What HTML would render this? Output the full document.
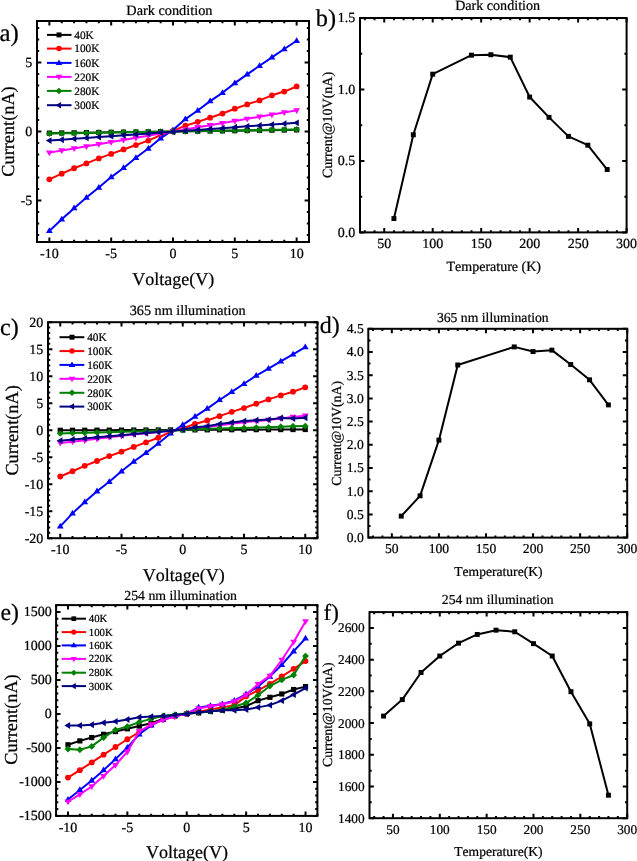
<!DOCTYPE html>
<html><head><meta charset="utf-8"><style>
html,body{margin:0;padding:0;background:#fff;}
body{width:637px;height:861px;overflow:hidden;}
svg{display:block;will-change:transform;}
text{font-family:"Liberation Serif", serif;font-kerning:none;text-rendering:geometricPrecision;stroke:#000;stroke-width:0.22px;}
</style></head><body>
<svg width="637" height="861" viewBox="0 0 637 861" font-family='"Liberation Serif", serif' fill="#000">
<rect width="637" height="861" fill="#fff"/>
<polyline points="49.36,133.16 61.73,132.99 74.09,132.83 86.45,132.66 98.82,132.49 111.18,132.33 123.55,132.16 135.91,132 148.27,131.83 160.64,131.67 173,131.5 185.36,131.33 197.73,131.17 210.09,131 222.45,130.84 234.82,130.67 247.18,130.51 259.55,130.34 271.91,130.17 284.27,130.01 296.64,129.84" fill="none" stroke="#000000" stroke-width="2.0" stroke-linejoin="round"/>
<rect x="46.76" y="130.56" width="5.2" height="5.2" fill="#000000"/>
<rect x="59.13" y="130.39" width="5.2" height="5.2" fill="#000000"/>
<rect x="71.49" y="130.23" width="5.2" height="5.2" fill="#000000"/>
<rect x="83.85" y="130.06" width="5.2" height="5.2" fill="#000000"/>
<rect x="96.22" y="129.89" width="5.2" height="5.2" fill="#000000"/>
<rect x="108.58" y="129.73" width="5.2" height="5.2" fill="#000000"/>
<rect x="120.95" y="129.56" width="5.2" height="5.2" fill="#000000"/>
<rect x="133.31" y="129.4" width="5.2" height="5.2" fill="#000000"/>
<rect x="145.67" y="129.23" width="5.2" height="5.2" fill="#000000"/>
<rect x="158.04" y="129.07" width="5.2" height="5.2" fill="#000000"/>
<rect x="170.4" y="128.9" width="5.2" height="5.2" fill="#000000"/>
<rect x="182.76" y="128.73" width="5.2" height="5.2" fill="#000000"/>
<rect x="195.13" y="128.57" width="5.2" height="5.2" fill="#000000"/>
<rect x="207.49" y="128.4" width="5.2" height="5.2" fill="#000000"/>
<rect x="219.85" y="128.24" width="5.2" height="5.2" fill="#000000"/>
<rect x="232.22" y="128.07" width="5.2" height="5.2" fill="#000000"/>
<rect x="244.58" y="127.91" width="5.2" height="5.2" fill="#000000"/>
<rect x="256.95" y="127.74" width="5.2" height="5.2" fill="#000000"/>
<rect x="269.31" y="127.57" width="5.2" height="5.2" fill="#000000"/>
<rect x="281.67" y="127.41" width="5.2" height="5.2" fill="#000000"/>
<rect x="294.04" y="127.24" width="5.2" height="5.2" fill="#000000"/>
<polyline points="49.36,179.29 61.73,173.63 74.09,168.24 86.45,163.41 98.82,158.43 111.18,153.88 123.55,149.46 135.91,145.04 148.27,140.62 160.64,135.09 173,130.81 185.36,125.7 197.73,121.83 210.09,117.69 222.45,113.54 234.82,108.71 247.18,104.43 259.55,100.42 271.91,95.31 284.27,91.58 296.64,86.47" fill="none" stroke="#ff0000" stroke-width="2.0" stroke-linejoin="round"/>
<circle cx="49.36" cy="179.29" r="2.9" fill="#ff0000"/>
<circle cx="61.73" cy="173.63" r="2.9" fill="#ff0000"/>
<circle cx="74.09" cy="168.24" r="2.9" fill="#ff0000"/>
<circle cx="86.45" cy="163.41" r="2.9" fill="#ff0000"/>
<circle cx="98.82" cy="158.43" r="2.9" fill="#ff0000"/>
<circle cx="111.18" cy="153.88" r="2.9" fill="#ff0000"/>
<circle cx="123.55" cy="149.46" r="2.9" fill="#ff0000"/>
<circle cx="135.91" cy="145.04" r="2.9" fill="#ff0000"/>
<circle cx="148.27" cy="140.62" r="2.9" fill="#ff0000"/>
<circle cx="160.64" cy="135.09" r="2.9" fill="#ff0000"/>
<circle cx="173" cy="130.81" r="2.9" fill="#ff0000"/>
<circle cx="185.36" cy="125.7" r="2.9" fill="#ff0000"/>
<circle cx="197.73" cy="121.83" r="2.9" fill="#ff0000"/>
<circle cx="210.09" cy="117.69" r="2.9" fill="#ff0000"/>
<circle cx="222.45" cy="113.54" r="2.9" fill="#ff0000"/>
<circle cx="234.82" cy="108.71" r="2.9" fill="#ff0000"/>
<circle cx="247.18" cy="104.43" r="2.9" fill="#ff0000"/>
<circle cx="259.55" cy="100.42" r="2.9" fill="#ff0000"/>
<circle cx="271.91" cy="95.31" r="2.9" fill="#ff0000"/>
<circle cx="284.27" cy="91.58" r="2.9" fill="#ff0000"/>
<circle cx="296.64" cy="86.47" r="2.9" fill="#ff0000"/>
<polyline points="49.36,230.95 61.73,219.35 74.09,208.16 86.45,197.52 98.82,187.58 111.18,177.08 123.55,167.97 135.91,157.74 148.27,148.49 160.64,138.27 173,130.12 185.36,119.07 197.73,110.5 210.09,101.11 222.45,92.82 234.82,83.16 247.18,74.32 259.55,65.75 271.91,57.33 284.27,49.04 296.64,40.75" fill="none" stroke="#0000ff" stroke-width="2.0" stroke-linejoin="round"/>
<polygon points="49.36,227.35 52.78,233.11 45.94,233.11" fill="#0000ff"/>
<polygon points="61.73,215.75 65.15,221.51 58.31,221.51" fill="#0000ff"/>
<polygon points="74.09,204.56 77.51,210.32 70.67,210.32" fill="#0000ff"/>
<polygon points="86.45,193.92 89.87,199.68 83.03,199.68" fill="#0000ff"/>
<polygon points="98.82,183.98 102.24,189.74 95.4,189.74" fill="#0000ff"/>
<polygon points="111.18,173.48 114.6,179.24 107.76,179.24" fill="#0000ff"/>
<polygon points="123.55,164.37 126.97,170.12 120.13,170.12" fill="#0000ff"/>
<polygon points="135.91,154.14 139.33,159.9 132.49,159.9" fill="#0000ff"/>
<polygon points="148.27,144.89 151.69,150.65 144.85,150.65" fill="#0000ff"/>
<polygon points="160.64,134.67 164.06,140.43 157.22,140.43" fill="#0000ff"/>
<polygon points="173,126.52 176.42,132.28 169.58,132.28" fill="#0000ff"/>
<polygon points="185.36,115.47 188.78,121.23 181.94,121.23" fill="#0000ff"/>
<polygon points="197.73,106.91 201.15,112.66 194.31,112.66" fill="#0000ff"/>
<polygon points="210.09,97.51 213.51,103.27 206.67,103.27" fill="#0000ff"/>
<polygon points="222.45,89.22 225.87,94.98 219.03,94.98" fill="#0000ff"/>
<polygon points="234.82,79.56 238.24,85.32 231.4,85.32" fill="#0000ff"/>
<polygon points="247.18,70.72 250.6,76.48 243.76,76.48" fill="#0000ff"/>
<polygon points="259.55,62.15 262.97,67.91 256.13,67.91" fill="#0000ff"/>
<polygon points="271.91,53.73 275.33,59.49 268.49,59.49" fill="#0000ff"/>
<polygon points="284.27,45.44 287.69,51.2 280.85,51.2" fill="#0000ff"/>
<polygon points="296.64,37.15 300.06,42.91 293.22,42.91" fill="#0000ff"/>
<polyline points="49.36,152.63 61.73,150.52 74.09,148.41 86.45,146.29 98.82,144.18 111.18,142.07 123.55,139.95 135.91,137.84 148.27,135.73 160.64,133.61 173,131.5 185.36,129.39 197.73,127.27 210.09,125.16 222.45,123.05 234.82,120.93 247.18,118.82 259.55,116.71 271.91,114.59 284.27,112.48 296.64,110.37" fill="none" stroke="#ff00ff" stroke-width="2.0" stroke-linejoin="round"/>
<polygon points="49.36,156.23 52.78,150.47 45.94,150.47" fill="#ff00ff"/>
<polygon points="61.73,154.12 65.15,148.36 58.31,148.36" fill="#ff00ff"/>
<polygon points="74.09,152.01 77.51,146.25 70.67,146.25" fill="#ff00ff"/>
<polygon points="86.45,149.89 89.87,144.13 83.03,144.13" fill="#ff00ff"/>
<polygon points="98.82,147.78 102.24,142.02 95.4,142.02" fill="#ff00ff"/>
<polygon points="111.18,145.67 114.6,139.91 107.76,139.91" fill="#ff00ff"/>
<polygon points="123.55,143.55 126.97,137.79 120.13,137.79" fill="#ff00ff"/>
<polygon points="135.91,141.44 139.33,135.68 132.49,135.68" fill="#ff00ff"/>
<polygon points="148.27,139.33 151.69,133.57 144.85,133.57" fill="#ff00ff"/>
<polygon points="160.64,137.21 164.06,131.45 157.22,131.45" fill="#ff00ff"/>
<polygon points="173,135.1 176.42,129.34 169.58,129.34" fill="#ff00ff"/>
<polygon points="185.36,132.99 188.78,127.23 181.94,127.23" fill="#ff00ff"/>
<polygon points="197.73,130.87 201.15,125.11 194.31,125.11" fill="#ff00ff"/>
<polygon points="210.09,128.76 213.51,123 206.67,123" fill="#ff00ff"/>
<polygon points="222.45,126.65 225.87,120.89 219.03,120.89" fill="#ff00ff"/>
<polygon points="234.82,124.53 238.24,118.77 231.4,118.77" fill="#ff00ff"/>
<polygon points="247.18,122.42 250.6,116.66 243.76,116.66" fill="#ff00ff"/>
<polygon points="259.55,120.31 262.97,114.55 256.13,114.55" fill="#ff00ff"/>
<polygon points="271.91,118.19 275.33,112.43 268.49,112.43" fill="#ff00ff"/>
<polygon points="284.27,116.08 287.69,110.32 280.85,110.32" fill="#ff00ff"/>
<polygon points="296.64,113.97 300.06,108.21 293.22,108.21" fill="#ff00ff"/>
<polyline points="49.36,133.57 61.73,133.36 74.09,133.16 86.45,132.95 98.82,132.74 111.18,132.54 123.55,132.33 135.91,132.12 148.27,131.91 160.64,131.71 173,131.5 185.36,131.29 197.73,131.09 210.09,130.88 222.45,130.67 234.82,130.46 247.18,130.26 259.55,130.05 271.91,129.84 284.27,129.64 296.64,129.43" fill="none" stroke="#008000" stroke-width="2.0" stroke-linejoin="round"/>
<polygon points="49.36,130.17 52.76,133.57 49.36,136.97 45.96,133.57" fill="#008000"/>
<polygon points="61.73,129.96 65.13,133.36 61.73,136.76 58.33,133.36" fill="#008000"/>
<polygon points="74.09,129.76 77.49,133.16 74.09,136.56 70.69,133.16" fill="#008000"/>
<polygon points="86.45,129.55 89.85,132.95 86.45,136.35 83.05,132.95" fill="#008000"/>
<polygon points="98.82,129.34 102.22,132.74 98.82,136.14 95.42,132.74" fill="#008000"/>
<polygon points="111.18,129.14 114.58,132.54 111.18,135.94 107.78,132.54" fill="#008000"/>
<polygon points="123.55,128.93 126.95,132.33 123.55,135.73 120.15,132.33" fill="#008000"/>
<polygon points="135.91,128.72 139.31,132.12 135.91,135.52 132.51,132.12" fill="#008000"/>
<polygon points="148.27,128.51 151.67,131.91 148.27,135.31 144.87,131.91" fill="#008000"/>
<polygon points="160.64,128.31 164.04,131.71 160.64,135.11 157.24,131.71" fill="#008000"/>
<polygon points="173,128.1 176.4,131.5 173,134.9 169.6,131.5" fill="#008000"/>
<polygon points="185.36,127.89 188.76,131.29 185.36,134.69 181.96,131.29" fill="#008000"/>
<polygon points="197.73,127.69 201.13,131.09 197.73,134.49 194.33,131.09" fill="#008000"/>
<polygon points="210.09,127.48 213.49,130.88 210.09,134.28 206.69,130.88" fill="#008000"/>
<polygon points="222.45,127.27 225.85,130.67 222.45,134.07 219.05,130.67" fill="#008000"/>
<polygon points="234.82,127.06 238.22,130.46 234.82,133.86 231.42,130.46" fill="#008000"/>
<polygon points="247.18,126.86 250.58,130.26 247.18,133.66 243.78,130.26" fill="#008000"/>
<polygon points="259.55,126.65 262.95,130.05 259.55,133.45 256.15,130.05" fill="#008000"/>
<polygon points="271.91,126.44 275.31,129.84 271.91,133.24 268.51,129.84" fill="#008000"/>
<polygon points="284.27,126.24 287.67,129.64 284.27,133.04 280.87,129.64" fill="#008000"/>
<polygon points="296.64,126.03 300.04,129.43 296.64,132.83 293.24,129.43" fill="#008000"/>
<polyline points="49.36,140.62 61.73,139.73 74.09,138.83 86.45,137.94 98.82,137.05 111.18,136.16 123.55,135.27 135.91,134.38 148.27,133.49 160.64,132.6 173,131.71 185.36,130.82 197.73,129.93 210.09,129.03 222.45,128.14 234.82,127.25 247.18,126.36 259.55,125.47 271.91,124.58 284.27,123.69 296.64,122.8" fill="none" stroke="#000080" stroke-width="2.0" stroke-linejoin="round"/>
<polygon points="45.76,140.62 51.52,137.2 51.52,144.04" fill="#000080"/>
<polygon points="58.13,139.73 63.89,136.31 63.89,143.15" fill="#000080"/>
<polygon points="70.49,138.83 76.25,135.41 76.25,142.25" fill="#000080"/>
<polygon points="82.85,137.94 88.61,134.52 88.61,141.36" fill="#000080"/>
<polygon points="95.22,137.05 100.98,133.63 100.98,140.47" fill="#000080"/>
<polygon points="107.58,136.16 113.34,132.74 113.34,139.58" fill="#000080"/>
<polygon points="119.95,135.27 125.71,131.85 125.71,138.69" fill="#000080"/>
<polygon points="132.31,134.38 138.07,130.96 138.07,137.8" fill="#000080"/>
<polygon points="144.67,133.49 150.43,130.07 150.43,136.91" fill="#000080"/>
<polygon points="157.04,132.6 162.8,129.18 162.8,136.02" fill="#000080"/>
<polygon points="169.4,131.71 175.16,128.29 175.16,135.13" fill="#000080"/>
<polygon points="181.76,130.82 187.52,127.4 187.52,134.24" fill="#000080"/>
<polygon points="194.13,129.93 199.89,126.51 199.89,133.35" fill="#000080"/>
<polygon points="206.49,129.03 212.25,125.61 212.25,132.45" fill="#000080"/>
<polygon points="218.85,128.14 224.61,124.72 224.61,131.56" fill="#000080"/>
<polygon points="231.22,127.25 236.98,123.83 236.98,130.67" fill="#000080"/>
<polygon points="243.58,126.36 249.34,122.94 249.34,129.78" fill="#000080"/>
<polygon points="255.95,125.47 261.71,122.05 261.71,128.89" fill="#000080"/>
<polygon points="268.31,124.58 274.07,121.16 274.07,128" fill="#000080"/>
<polygon points="280.67,123.69 286.43,120.27 286.43,127.11" fill="#000080"/>
<polygon points="293.04,122.8 298.8,119.38 298.8,126.22" fill="#000080"/>
<path d="M47 34.9H71.5" stroke="#000000" stroke-width="2"/>
<rect x="56.53" y="32.43" width="4.94" height="4.94" fill="#000000"/>
<text x="74.3" y="38.63" font-size="11.3" text-anchor="start">40K</text>
<path d="M47 48.6H71.5" stroke="#ff0000" stroke-width="2"/>
<circle cx="59" cy="48.6" r="2.75" fill="#ff0000"/>
<text x="74.3" y="52.33" font-size="11.3" text-anchor="start">100K</text>
<path d="M47 62.9H71.5" stroke="#0000ff" stroke-width="2"/>
<polygon points="59,59.48 62.25,64.95 55.75,64.95" fill="#0000ff"/>
<text x="74.3" y="66.63" font-size="11.3" text-anchor="start">160K</text>
<path d="M47 76.9H71.5" stroke="#ff00ff" stroke-width="2"/>
<polygon points="59,80.32 62.25,74.85 55.75,74.85" fill="#ff00ff"/>
<text x="74.3" y="80.63" font-size="11.3" text-anchor="start">220K</text>
<path d="M47 90.9H71.5" stroke="#008000" stroke-width="2"/>
<polygon points="59,87.67 62.23,90.9 59,94.13 55.77,90.9" fill="#008000"/>
<text x="74.3" y="94.63" font-size="11.3" text-anchor="start">280K</text>
<path d="M47 105.2H71.5" stroke="#000080" stroke-width="2"/>
<polygon points="55.58,105.2 61.05,101.95 61.05,108.45" fill="#000080"/>
<text x="74.3" y="108.93" font-size="11.3" text-anchor="start">300K</text>
<path d="M49.36 242V237.6M49.36 21V25.4M111.18 242V237.6M111.18 21V25.4M173 242V237.6M173 21V25.4M234.82 242V237.6M234.82 21V25.4M296.64 242V237.6M296.64 21V25.4M37 242V239.8M37 21V23.2M61.73 242V239.8M61.73 21V23.2M74.09 242V239.8M74.09 21V23.2M86.45 242V239.8M86.45 21V23.2M98.82 242V239.8M98.82 21V23.2M123.55 242V239.8M123.55 21V23.2M135.91 242V239.8M135.91 21V23.2M148.27 242V239.8M148.27 21V23.2M160.64 242V239.8M160.64 21V23.2M185.36 242V239.8M185.36 21V23.2M197.73 242V239.8M197.73 21V23.2M210.09 242V239.8M210.09 21V23.2M222.45 242V239.8M222.45 21V23.2M247.18 242V239.8M247.18 21V23.2M259.55 242V239.8M259.55 21V23.2M271.91 242V239.8M271.91 21V23.2M284.27 242V239.8M284.27 21V23.2M309 242V239.8M309 21V23.2M37 200.56H41.4M309 200.56H304.6M37 131.5H41.4M309 131.5H304.6M37 62.44H41.4M309 62.44H304.6M37 212.07H39.2M309 212.07H306.8M37 223.58H39.2M309 223.58H306.8M37 235.09H39.2M309 235.09H306.8M37 189.05H39.2M309 189.05H306.8M37 177.54H39.2M309 177.54H306.8M37 166.03H39.2M309 166.03H306.8M37 154.52H39.2M309 154.52H306.8M37 143.01H39.2M309 143.01H306.8M37 119.99H39.2M309 119.99H306.8M37 108.48H39.2M309 108.48H306.8M37 96.97H39.2M309 96.97H306.8M37 85.46H39.2M309 85.46H306.8M37 73.95H39.2M309 73.95H306.8M37 50.93H39.2M309 50.93H306.8M37 39.42H39.2M309 39.42H306.8M37 27.91H39.2M309 27.91H306.8" stroke="#000" stroke-width="2.0" fill="none"/>
<rect x="37" y="21" width="272" height="221" stroke="#000" stroke-width="2.0" fill="none"/>
<text x="49.36" y="257.8" font-size="14" text-anchor="middle">-10</text>
<text x="111.18" y="257.8" font-size="14" text-anchor="middle">-5</text>
<text x="173" y="257.8" font-size="14" text-anchor="middle">0</text>
<text x="234.82" y="257.8" font-size="14" text-anchor="middle">5</text>
<text x="296.64" y="257.8" font-size="14" text-anchor="middle">10</text>
<text x="32.3" y="204.98" font-size="14" text-anchor="end">-5</text>
<text x="32.3" y="135.92" font-size="14" text-anchor="end">0</text>
<text x="32.3" y="66.86" font-size="14" text-anchor="end">5</text>
<text x="169.4" y="14.9" font-size="14.3" text-anchor="middle">Dark condition</text>
<text x="173.3" y="284.7" font-size="18" text-anchor="middle">Voltage(V)</text>
<text x="14.2" y="131.5" font-size="18.3" text-anchor="middle" transform="rotate(-90 14.2 131.5)">Current(nA)</text>
<text x="-0.6" y="40.6" font-size="24.8" text-anchor="start">a)</text>
<polyline points="393.93,218.54 413.32,134.78 432.71,74.17 471.49,55.16 490.88,54.73 510.27,57.16 529.65,97.04 549.04,117.34 568.43,136.35 587.82,145.21 607.21,169.51" fill="none" stroke="#000" stroke-width="2.0" stroke-linejoin="round"/>
<rect x="391.46" y="216.07" width="4.94" height="4.94" fill="#000"/>
<rect x="410.85" y="132.31" width="4.94" height="4.94" fill="#000"/>
<rect x="430.24" y="71.7" width="4.94" height="4.94" fill="#000"/>
<rect x="469.02" y="52.69" width="4.94" height="4.94" fill="#000"/>
<rect x="488.41" y="52.26" width="4.94" height="4.94" fill="#000"/>
<rect x="507.8" y="54.69" width="4.94" height="4.94" fill="#000"/>
<rect x="527.18" y="94.57" width="4.94" height="4.94" fill="#000"/>
<rect x="546.57" y="114.87" width="4.94" height="4.94" fill="#000"/>
<rect x="565.96" y="133.88" width="4.94" height="4.94" fill="#000"/>
<rect x="585.35" y="142.74" width="4.94" height="4.94" fill="#000"/>
<rect x="604.74" y="167.04" width="4.94" height="4.94" fill="#000"/>
<path d="M384.24 232.4V228M384.24 18V22.4M432.71 232.4V228M432.71 18V22.4M481.18 232.4V228M481.18 18V22.4M529.65 232.4V228M529.65 18V22.4M578.13 232.4V228M578.13 18V22.4M626.6 232.4V228M626.6 18V22.4M364.85 232.4V230.2M364.85 18V20.2M374.54 232.4V230.2M374.54 18V20.2M393.93 232.4V230.2M393.93 18V20.2M403.63 232.4V230.2M403.63 18V20.2M413.32 232.4V230.2M413.32 18V20.2M423.01 232.4V230.2M423.01 18V20.2M442.4 232.4V230.2M442.4 18V20.2M452.1 232.4V230.2M452.1 18V20.2M461.79 232.4V230.2M461.79 18V20.2M471.49 232.4V230.2M471.49 18V20.2M490.88 232.4V230.2M490.88 18V20.2M500.57 232.4V230.2M500.57 18V20.2M510.27 232.4V230.2M510.27 18V20.2M519.96 232.4V230.2M519.96 18V20.2M539.35 232.4V230.2M539.35 18V20.2M549.04 232.4V230.2M549.04 18V20.2M558.74 232.4V230.2M558.74 18V20.2M568.43 232.4V230.2M568.43 18V20.2M587.82 232.4V230.2M587.82 18V20.2M597.52 232.4V230.2M597.52 18V20.2M607.21 232.4V230.2M607.21 18V20.2M616.91 232.4V230.2M616.91 18V20.2M360 232.4H364.4M626.6 232.4H622.2M360 160.93H364.4M626.6 160.93H622.2M360 89.47H364.4M626.6 89.47H622.2M360 18H364.4M626.6 18H622.2M360 196.67H362.2M626.6 196.67H624.4M360 125.2H362.2M626.6 125.2H624.4M360 53.73H362.2M626.6 53.73H624.4" stroke="#000" stroke-width="2.0" fill="none"/>
<rect x="360" y="18" width="266.6" height="214.4" stroke="#000" stroke-width="2.0" fill="none"/>
<text x="384.24" y="248" font-size="14" text-anchor="middle">50</text>
<text x="432.71" y="248" font-size="14" text-anchor="middle">100</text>
<text x="481.18" y="248" font-size="14" text-anchor="middle">150</text>
<text x="529.65" y="248" font-size="14" text-anchor="middle">200</text>
<text x="578.13" y="248" font-size="14" text-anchor="middle">250</text>
<text x="626.6" y="248" font-size="14" text-anchor="middle">300</text>
<text x="355.3" y="236.82" font-size="14" text-anchor="end">0.0</text>
<text x="355.3" y="165.35" font-size="14" text-anchor="end">0.5</text>
<text x="355.3" y="93.89" font-size="14" text-anchor="end">1.0</text>
<text x="355.3" y="22.42" font-size="14" text-anchor="end">1.5</text>
<text x="497.6" y="9.6" font-size="14.1" text-anchor="middle">Dark condition</text>
<text x="493.8" y="270.9" font-size="14" text-anchor="middle">Temperature (K)</text>
<text x="331.5" y="125" font-size="14" text-anchor="middle" transform="rotate(-90 331.5 125)">Current@10V(nA)</text>
<text x="315.8" y="25.6" font-size="24.3" text-anchor="start">b)</text>
<polyline points="60.25,430.31 72.5,430.27 84.75,430.23 97,430.19 109.25,430.15 121.5,430.11 133.75,430.07 146,430.02 158.25,429.98 170.5,429.94 182.75,429.9 195,429.86 207.25,429.82 219.5,429.78 231.75,429.74 244,429.7 256.25,429.66 268.5,429.62 280.75,429.58 293,429.54 305.25,429.5" fill="none" stroke="#000000" stroke-width="2.0" stroke-linejoin="round"/>
<rect x="57.65" y="427.71" width="5.2" height="5.2" fill="#000000"/>
<rect x="69.9" y="427.67" width="5.2" height="5.2" fill="#000000"/>
<rect x="82.15" y="427.63" width="5.2" height="5.2" fill="#000000"/>
<rect x="94.4" y="427.59" width="5.2" height="5.2" fill="#000000"/>
<rect x="106.65" y="427.55" width="5.2" height="5.2" fill="#000000"/>
<rect x="118.9" y="427.51" width="5.2" height="5.2" fill="#000000"/>
<rect x="131.15" y="427.47" width="5.2" height="5.2" fill="#000000"/>
<rect x="143.4" y="427.42" width="5.2" height="5.2" fill="#000000"/>
<rect x="155.65" y="427.38" width="5.2" height="5.2" fill="#000000"/>
<rect x="167.9" y="427.34" width="5.2" height="5.2" fill="#000000"/>
<rect x="180.15" y="427.3" width="5.2" height="5.2" fill="#000000"/>
<rect x="192.4" y="427.26" width="5.2" height="5.2" fill="#000000"/>
<rect x="204.65" y="427.22" width="5.2" height="5.2" fill="#000000"/>
<rect x="216.9" y="427.18" width="5.2" height="5.2" fill="#000000"/>
<rect x="229.15" y="427.14" width="5.2" height="5.2" fill="#000000"/>
<rect x="241.4" y="427.1" width="5.2" height="5.2" fill="#000000"/>
<rect x="253.65" y="427.06" width="5.2" height="5.2" fill="#000000"/>
<rect x="265.9" y="427.02" width="5.2" height="5.2" fill="#000000"/>
<rect x="278.15" y="426.98" width="5.2" height="5.2" fill="#000000"/>
<rect x="290.4" y="426.94" width="5.2" height="5.2" fill="#000000"/>
<rect x="302.65" y="426.9" width="5.2" height="5.2" fill="#000000"/>
<polyline points="60.25,476.48 72.5,471.24 84.75,465.84 97,460.98 109.25,456.12 121.5,451.69 133.75,446.94 146,442.4 158.25,437.76 170.5,431.82 182.75,428.2 195,423.99 207.25,420.48 219.5,416.16 231.75,411.84 244,408.06 256.25,403.74 268.5,399.42 280.75,395.42 293,391.7 305.25,387.32" fill="none" stroke="#ff0000" stroke-width="2.0" stroke-linejoin="round"/>
<circle cx="60.25" cy="476.48" r="2.9" fill="#ff0000"/>
<circle cx="72.5" cy="471.24" r="2.9" fill="#ff0000"/>
<circle cx="84.75" cy="465.84" r="2.9" fill="#ff0000"/>
<circle cx="97" cy="460.98" r="2.9" fill="#ff0000"/>
<circle cx="109.25" cy="456.12" r="2.9" fill="#ff0000"/>
<circle cx="121.5" cy="451.69" r="2.9" fill="#ff0000"/>
<circle cx="133.75" cy="446.94" r="2.9" fill="#ff0000"/>
<circle cx="146" cy="442.4" r="2.9" fill="#ff0000"/>
<circle cx="158.25" cy="437.76" r="2.9" fill="#ff0000"/>
<circle cx="170.5" cy="431.82" r="2.9" fill="#ff0000"/>
<circle cx="182.75" cy="428.2" r="2.9" fill="#ff0000"/>
<circle cx="195" cy="423.99" r="2.9" fill="#ff0000"/>
<circle cx="207.25" cy="420.48" r="2.9" fill="#ff0000"/>
<circle cx="219.5" cy="416.16" r="2.9" fill="#ff0000"/>
<circle cx="231.75" cy="411.84" r="2.9" fill="#ff0000"/>
<circle cx="244" cy="408.06" r="2.9" fill="#ff0000"/>
<circle cx="256.25" cy="403.74" r="2.9" fill="#ff0000"/>
<circle cx="268.5" cy="399.42" r="2.9" fill="#ff0000"/>
<circle cx="280.75" cy="395.42" r="2.9" fill="#ff0000"/>
<circle cx="293" cy="391.7" r="2.9" fill="#ff0000"/>
<circle cx="305.25" cy="387.32" r="2.9" fill="#ff0000"/>
<polyline points="60.25,526.32 72.5,513.36 84.75,502.02 97,491.22 109.25,481.77 121.5,471.24 133.75,461.52 146,452.88 158.25,443.54 170.5,433.44 182.75,424.8 195,416.7 207.25,408.6 219.5,399.96 231.75,391.86 244,383.76 256.25,375.66 268.5,368.64 280.75,361.4 293,354.33 305.25,347.09" fill="none" stroke="#0000ff" stroke-width="2.0" stroke-linejoin="round"/>
<polygon points="60.25,522.72 63.67,528.48 56.83,528.48" fill="#0000ff"/>
<polygon points="72.5,509.76 75.92,515.52 69.08,515.52" fill="#0000ff"/>
<polygon points="84.75,498.42 88.17,504.18 81.33,504.18" fill="#0000ff"/>
<polygon points="97,487.62 100.42,493.38 93.58,493.38" fill="#0000ff"/>
<polygon points="109.25,478.17 112.67,483.93 105.83,483.93" fill="#0000ff"/>
<polygon points="121.5,467.64 124.92,473.4 118.08,473.4" fill="#0000ff"/>
<polygon points="133.75,457.92 137.17,463.68 130.33,463.68" fill="#0000ff"/>
<polygon points="146,449.28 149.42,455.04 142.58,455.04" fill="#0000ff"/>
<polygon points="158.25,439.94 161.67,445.7 154.83,445.7" fill="#0000ff"/>
<polygon points="170.5,429.84 173.92,435.6 167.08,435.6" fill="#0000ff"/>
<polygon points="182.75,421.2 186.17,426.96 179.33,426.96" fill="#0000ff"/>
<polygon points="195,413.1 198.42,418.86 191.58,418.86" fill="#0000ff"/>
<polygon points="207.25,405 210.67,410.76 203.83,410.76" fill="#0000ff"/>
<polygon points="219.5,396.36 222.92,402.12 216.08,402.12" fill="#0000ff"/>
<polygon points="231.75,388.26 235.17,394.02 228.33,394.02" fill="#0000ff"/>
<polygon points="244,380.16 247.42,385.92 240.58,385.92" fill="#0000ff"/>
<polygon points="256.25,372.06 259.67,377.82 252.83,377.82" fill="#0000ff"/>
<polygon points="268.5,365.04 271.92,370.8 265.08,370.8" fill="#0000ff"/>
<polygon points="280.75,357.8 284.17,363.56 277.33,363.56" fill="#0000ff"/>
<polygon points="293,350.73 296.42,356.49 289.58,356.49" fill="#0000ff"/>
<polygon points="305.25,343.49 308.67,349.25 301.83,349.25" fill="#0000ff"/>
<polyline points="60.25,442.89 72.5,441.65 84.75,440.35 97,438.84 109.25,437.22 121.5,435.87 133.75,434.52 146,433.22 158.25,431.98 170.5,430.85 182.75,429.66 195,428.58 207.25,426.96 219.5,425.34 231.75,423.72 244,422.21 256.25,421.02 268.5,419.94 280.75,418.48 293,416.92 305.25,415.62" fill="none" stroke="#ff00ff" stroke-width="2.0" stroke-linejoin="round"/>
<polygon points="60.25,446.49 63.67,440.73 56.83,440.73" fill="#ff00ff"/>
<polygon points="72.5,445.25 75.92,439.49 69.08,439.49" fill="#ff00ff"/>
<polygon points="84.75,443.95 88.17,438.19 81.33,438.19" fill="#ff00ff"/>
<polygon points="97,442.44 100.42,436.68 93.58,436.68" fill="#ff00ff"/>
<polygon points="109.25,440.82 112.67,435.06 105.83,435.06" fill="#ff00ff"/>
<polygon points="121.5,439.47 124.92,433.71 118.08,433.71" fill="#ff00ff"/>
<polygon points="133.75,438.12 137.17,432.36 130.33,432.36" fill="#ff00ff"/>
<polygon points="146,436.82 149.42,431.06 142.58,431.06" fill="#ff00ff"/>
<polygon points="158.25,435.58 161.67,429.82 154.83,429.82" fill="#ff00ff"/>
<polygon points="170.5,434.45 173.92,428.69 167.08,428.69" fill="#ff00ff"/>
<polygon points="182.75,433.26 186.17,427.5 179.33,427.5" fill="#ff00ff"/>
<polygon points="195,432.18 198.42,426.42 191.58,426.42" fill="#ff00ff"/>
<polygon points="207.25,430.56 210.67,424.8 203.83,424.8" fill="#ff00ff"/>
<polygon points="219.5,428.94 222.92,423.18 216.08,423.18" fill="#ff00ff"/>
<polygon points="231.75,427.32 235.17,421.56 228.33,421.56" fill="#ff00ff"/>
<polygon points="244,425.81 247.42,420.05 240.58,420.05" fill="#ff00ff"/>
<polygon points="256.25,424.62 259.67,418.86 252.83,418.86" fill="#ff00ff"/>
<polygon points="268.5,423.54 271.92,417.78 265.08,417.78" fill="#ff00ff"/>
<polygon points="280.75,422.08 284.17,416.32 277.33,416.32" fill="#ff00ff"/>
<polygon points="293,420.52 296.42,414.76 289.58,414.76" fill="#ff00ff"/>
<polygon points="305.25,419.22 308.67,413.46 301.83,413.46" fill="#ff00ff"/>
<polyline points="60.25,433.44 72.5,433.12 84.75,432.79 97,432.47 109.25,432.14 121.5,431.82 133.75,431.5 146,431.17 158.25,430.85 170.5,430.52 182.75,430.2 195,429.01 207.25,428.69 219.5,428.42 231.75,428.15 244,427.88 256.25,427.61 268.5,427.28 280.75,426.74 293,426.2 305.25,426.1" fill="none" stroke="#008000" stroke-width="2.0" stroke-linejoin="round"/>
<polygon points="60.25,430.04 63.65,433.44 60.25,436.84 56.85,433.44" fill="#008000"/>
<polygon points="72.5,429.72 75.9,433.12 72.5,436.52 69.1,433.12" fill="#008000"/>
<polygon points="84.75,429.39 88.15,432.79 84.75,436.19 81.35,432.79" fill="#008000"/>
<polygon points="97,429.07 100.4,432.47 97,435.87 93.6,432.47" fill="#008000"/>
<polygon points="109.25,428.74 112.65,432.14 109.25,435.54 105.85,432.14" fill="#008000"/>
<polygon points="121.5,428.42 124.9,431.82 121.5,435.22 118.1,431.82" fill="#008000"/>
<polygon points="133.75,428.1 137.15,431.5 133.75,434.9 130.35,431.5" fill="#008000"/>
<polygon points="146,427.77 149.4,431.17 146,434.57 142.6,431.17" fill="#008000"/>
<polygon points="158.25,427.45 161.65,430.85 158.25,434.25 154.85,430.85" fill="#008000"/>
<polygon points="170.5,427.12 173.9,430.52 170.5,433.92 167.1,430.52" fill="#008000"/>
<polygon points="182.75,426.8 186.15,430.2 182.75,433.6 179.35,430.2" fill="#008000"/>
<polygon points="195,425.61 198.4,429.01 195,432.41 191.6,429.01" fill="#008000"/>
<polygon points="207.25,425.29 210.65,428.69 207.25,432.09 203.85,428.69" fill="#008000"/>
<polygon points="219.5,425.02 222.9,428.42 219.5,431.82 216.1,428.42" fill="#008000"/>
<polygon points="231.75,424.75 235.15,428.15 231.75,431.55 228.35,428.15" fill="#008000"/>
<polygon points="244,424.48 247.4,427.88 244,431.28 240.6,427.88" fill="#008000"/>
<polygon points="256.25,424.21 259.65,427.61 256.25,431.01 252.85,427.61" fill="#008000"/>
<polygon points="268.5,423.88 271.9,427.28 268.5,430.68 265.1,427.28" fill="#008000"/>
<polygon points="280.75,423.34 284.15,426.74 280.75,430.14 277.35,426.74" fill="#008000"/>
<polygon points="293,422.8 296.4,426.2 293,429.6 289.6,426.2" fill="#008000"/>
<polygon points="305.25,422.7 308.65,426.1 305.25,429.5 301.85,426.1" fill="#008000"/>
<polyline points="60.25,440.68 72.5,439.49 84.75,438.41 97,437.33 109.25,436.25 121.5,435.17 133.75,434.09 146,433.01 158.25,431.93 170.5,430.85 182.75,429.39 195,427.28 207.25,426.2 219.5,423.99 231.75,422.42 244,421.07 256.25,420.21 268.5,419.62 280.75,418 293,418.48 305.25,417.78" fill="none" stroke="#000080" stroke-width="2.0" stroke-linejoin="round"/>
<polygon points="56.65,440.68 62.41,437.26 62.41,444.1" fill="#000080"/>
<polygon points="68.9,439.49 74.66,436.07 74.66,442.91" fill="#000080"/>
<polygon points="81.15,438.41 86.91,434.99 86.91,441.83" fill="#000080"/>
<polygon points="93.4,437.33 99.16,433.91 99.16,440.75" fill="#000080"/>
<polygon points="105.65,436.25 111.41,432.83 111.41,439.67" fill="#000080"/>
<polygon points="117.9,435.17 123.66,431.75 123.66,438.59" fill="#000080"/>
<polygon points="130.15,434.09 135.91,430.67 135.91,437.51" fill="#000080"/>
<polygon points="142.4,433.01 148.16,429.59 148.16,436.43" fill="#000080"/>
<polygon points="154.65,431.93 160.41,428.51 160.41,435.35" fill="#000080"/>
<polygon points="166.9,430.85 172.66,427.43 172.66,434.27" fill="#000080"/>
<polygon points="179.15,429.39 184.91,425.97 184.91,432.81" fill="#000080"/>
<polygon points="191.4,427.28 197.16,423.86 197.16,430.7" fill="#000080"/>
<polygon points="203.65,426.2 209.41,422.78 209.41,429.62" fill="#000080"/>
<polygon points="215.9,423.99 221.66,420.57 221.66,427.41" fill="#000080"/>
<polygon points="228.15,422.42 233.91,419 233.91,425.84" fill="#000080"/>
<polygon points="240.4,421.07 246.16,417.65 246.16,424.49" fill="#000080"/>
<polygon points="252.65,420.21 258.41,416.79 258.41,423.63" fill="#000080"/>
<polygon points="264.9,419.62 270.66,416.2 270.66,423.04" fill="#000080"/>
<polygon points="277.15,418 282.91,414.58 282.91,421.42" fill="#000080"/>
<polygon points="289.4,418.48 295.16,415.06 295.16,421.9" fill="#000080"/>
<polygon points="301.65,417.78 307.41,414.36 307.41,421.2" fill="#000080"/>
<path d="M59.5 337.2H84.3" stroke="#000000" stroke-width="2"/>
<rect x="69.53" y="334.73" width="4.94" height="4.94" fill="#000000"/>
<text x="87.2" y="340.93" font-size="11.3" text-anchor="start">40K</text>
<path d="M59.5 351.1H84.3" stroke="#ff0000" stroke-width="2"/>
<circle cx="72" cy="351.1" r="2.75" fill="#ff0000"/>
<text x="87.2" y="354.83" font-size="11.3" text-anchor="start">100K</text>
<path d="M59.5 364.9H84.3" stroke="#0000ff" stroke-width="2"/>
<polygon points="72,361.48 75.25,366.95 68.75,366.95" fill="#0000ff"/>
<text x="87.2" y="368.63" font-size="11.3" text-anchor="start">160K</text>
<path d="M59.5 378.8H84.3" stroke="#ff00ff" stroke-width="2"/>
<polygon points="72,382.22 75.25,376.75 68.75,376.75" fill="#ff00ff"/>
<text x="87.2" y="382.53" font-size="11.3" text-anchor="start">220K</text>
<path d="M59.5 392.8H84.3" stroke="#008000" stroke-width="2"/>
<polygon points="72,389.57 75.23,392.8 72,396.03 68.77,392.8" fill="#008000"/>
<text x="87.2" y="396.53" font-size="11.3" text-anchor="start">280K</text>
<path d="M59.5 406.6H84.3" stroke="#000080" stroke-width="2"/>
<polygon points="68.58,406.6 74.05,403.35 74.05,409.85" fill="#000080"/>
<text x="87.2" y="410.33" font-size="11.3" text-anchor="start">300K</text>
<path d="M60.25 538.2V533.8M60.25 322.2V326.6M121.5 538.2V533.8M121.5 322.2V326.6M182.75 538.2V533.8M182.75 322.2V326.6M244 538.2V533.8M244 322.2V326.6M305.25 538.2V533.8M305.25 322.2V326.6M48 538.2V536M48 322.2V324.4M72.5 538.2V536M72.5 322.2V324.4M84.75 538.2V536M84.75 322.2V324.4M97 538.2V536M97 322.2V324.4M109.25 538.2V536M109.25 322.2V324.4M133.75 538.2V536M133.75 322.2V324.4M146 538.2V536M146 322.2V324.4M158.25 538.2V536M158.25 322.2V324.4M170.5 538.2V536M170.5 322.2V324.4M195 538.2V536M195 322.2V324.4M207.25 538.2V536M207.25 322.2V324.4M219.5 538.2V536M219.5 322.2V324.4M231.75 538.2V536M231.75 322.2V324.4M256.25 538.2V536M256.25 322.2V324.4M268.5 538.2V536M268.5 322.2V324.4M280.75 538.2V536M280.75 322.2V324.4M293 538.2V536M293 322.2V324.4M317.5 538.2V536M317.5 322.2V324.4M48 538.2H52.4M317.5 538.2H313.1M48 511.2H52.4M317.5 511.2H313.1M48 484.2H52.4M317.5 484.2H313.1M48 457.2H52.4M317.5 457.2H313.1M48 430.2H52.4M317.5 430.2H313.1M48 403.2H52.4M317.5 403.2H313.1M48 376.2H52.4M317.5 376.2H313.1M48 349.2H52.4M317.5 349.2H313.1M48 322.2H52.4M317.5 322.2H313.1M48 532.8H50.2M317.5 532.8H315.3M48 527.4H50.2M317.5 527.4H315.3M48 522H50.2M317.5 522H315.3M48 516.6H50.2M317.5 516.6H315.3M48 505.8H50.2M317.5 505.8H315.3M48 500.4H50.2M317.5 500.4H315.3M48 495H50.2M317.5 495H315.3M48 489.6H50.2M317.5 489.6H315.3M48 478.8H50.2M317.5 478.8H315.3M48 473.4H50.2M317.5 473.4H315.3M48 468H50.2M317.5 468H315.3M48 462.6H50.2M317.5 462.6H315.3M48 451.8H50.2M317.5 451.8H315.3M48 446.4H50.2M317.5 446.4H315.3M48 441H50.2M317.5 441H315.3M48 435.6H50.2M317.5 435.6H315.3M48 424.8H50.2M317.5 424.8H315.3M48 419.4H50.2M317.5 419.4H315.3M48 414H50.2M317.5 414H315.3M48 408.6H50.2M317.5 408.6H315.3M48 397.8H50.2M317.5 397.8H315.3M48 392.4H50.2M317.5 392.4H315.3M48 387H50.2M317.5 387H315.3M48 381.6H50.2M317.5 381.6H315.3M48 370.8H50.2M317.5 370.8H315.3M48 365.4H50.2M317.5 365.4H315.3M48 360H50.2M317.5 360H315.3M48 354.6H50.2M317.5 354.6H315.3M48 343.8H50.2M317.5 343.8H315.3M48 338.4H50.2M317.5 338.4H315.3M48 333H50.2M317.5 333H315.3M48 327.6H50.2M317.5 327.6H315.3" stroke="#000" stroke-width="2.0" fill="none"/>
<rect x="48" y="322.2" width="269.5" height="216" stroke="#000" stroke-width="2.0" fill="none"/>
<text x="60.25" y="554.2" font-size="14" text-anchor="middle">-10</text>
<text x="121.5" y="554.2" font-size="14" text-anchor="middle">-5</text>
<text x="182.75" y="554.2" font-size="14" text-anchor="middle">0</text>
<text x="244" y="554.2" font-size="14" text-anchor="middle">5</text>
<text x="305.25" y="554.2" font-size="14" text-anchor="middle">10</text>
<text x="43.3" y="542.62" font-size="14" text-anchor="end">-20</text>
<text x="43.3" y="515.62" font-size="14" text-anchor="end">-15</text>
<text x="43.3" y="488.62" font-size="14" text-anchor="end">-10</text>
<text x="43.3" y="461.62" font-size="14" text-anchor="end">-5</text>
<text x="43.3" y="434.62" font-size="14" text-anchor="end">0</text>
<text x="43.3" y="407.62" font-size="14" text-anchor="end">5</text>
<text x="43.3" y="380.62" font-size="14" text-anchor="end">10</text>
<text x="43.3" y="353.62" font-size="14" text-anchor="end">15</text>
<text x="43.3" y="326.62" font-size="14" text-anchor="end">20</text>
<text x="187.7" y="315" font-size="14.2" text-anchor="middle">365 nm illumination</text>
<text x="183.8" y="581.1" font-size="18" text-anchor="middle">Voltage(V)</text>
<text x="18.2" y="430.4" font-size="18.3" text-anchor="middle" transform="rotate(-90 18.2 430.4)">Current(nA)</text>
<text x="0.1" y="335" font-size="24" text-anchor="start">c)</text>
<polyline points="401.25,516.12 420.08,495.84 438.91,440.16 457.74,364.99 514.23,346.9 533.05,351.54 551.88,350.14 570.71,364.53 589.54,379.84 608.37,404.9" fill="none" stroke="#000" stroke-width="2.0" stroke-linejoin="round"/>
<rect x="398.78" y="513.65" width="4.94" height="4.94" fill="#000"/>
<rect x="417.61" y="493.37" width="4.94" height="4.94" fill="#000"/>
<rect x="436.44" y="437.69" width="4.94" height="4.94" fill="#000"/>
<rect x="455.27" y="362.52" width="4.94" height="4.94" fill="#000"/>
<rect x="511.76" y="344.43" width="4.94" height="4.94" fill="#000"/>
<rect x="530.58" y="349.07" width="4.94" height="4.94" fill="#000"/>
<rect x="549.41" y="347.67" width="4.94" height="4.94" fill="#000"/>
<rect x="568.24" y="362.06" width="4.94" height="4.94" fill="#000"/>
<rect x="587.07" y="377.37" width="4.94" height="4.94" fill="#000"/>
<rect x="605.9" y="402.43" width="4.94" height="4.94" fill="#000"/>
<path d="M391.84 537.6V533.2M391.84 328.8V333.2M438.91 537.6V533.2M438.91 328.8V333.2M485.98 537.6V533.2M485.98 328.8V333.2M533.05 537.6V533.2M533.05 328.8V333.2M580.13 537.6V533.2M580.13 328.8V333.2M627.2 537.6V533.2M627.2 328.8V333.2M373.01 537.6V535.4M373.01 328.8V331M382.42 537.6V535.4M382.42 328.8V331M401.25 537.6V535.4M401.25 328.8V331M410.67 537.6V535.4M410.67 328.8V331M420.08 537.6V535.4M420.08 328.8V331M429.49 537.6V535.4M429.49 328.8V331M448.32 537.6V535.4M448.32 328.8V331M457.74 537.6V535.4M457.74 328.8V331M467.15 537.6V535.4M467.15 328.8V331M476.57 537.6V535.4M476.57 328.8V331M495.4 537.6V535.4M495.4 328.8V331M504.81 537.6V535.4M504.81 328.8V331M514.23 537.6V535.4M514.23 328.8V331M523.64 537.6V535.4M523.64 328.8V331M542.47 537.6V535.4M542.47 328.8V331M551.88 537.6V535.4M551.88 328.8V331M561.3 537.6V535.4M561.3 328.8V331M570.71 537.6V535.4M570.71 328.8V331M589.54 537.6V535.4M589.54 328.8V331M598.96 537.6V535.4M598.96 328.8V331M608.37 537.6V535.4M608.37 328.8V331M617.79 537.6V535.4M617.79 328.8V331M368.3 537.6H372.7M627.2 537.6H622.8M368.3 514.4H372.7M627.2 514.4H622.8M368.3 491.2H372.7M627.2 491.2H622.8M368.3 468H372.7M627.2 468H622.8M368.3 444.8H372.7M627.2 444.8H622.8M368.3 421.6H372.7M627.2 421.6H622.8M368.3 398.4H372.7M627.2 398.4H622.8M368.3 375.2H372.7M627.2 375.2H622.8M368.3 352H372.7M627.2 352H622.8M368.3 328.8H372.7M627.2 328.8H622.8M368.3 526H370.5M627.2 526H625M368.3 502.8H370.5M627.2 502.8H625M368.3 479.6H370.5M627.2 479.6H625M368.3 456.4H370.5M627.2 456.4H625M368.3 433.2H370.5M627.2 433.2H625M368.3 410H370.5M627.2 410H625M368.3 386.8H370.5M627.2 386.8H625M368.3 363.6H370.5M627.2 363.6H625M368.3 340.4H370.5M627.2 340.4H625" stroke="#000" stroke-width="2.0" fill="none"/>
<rect x="368.3" y="328.8" width="258.9" height="208.8" stroke="#000" stroke-width="2.0" fill="none"/>
<text x="391.84" y="553" font-size="13.6" text-anchor="middle">50</text>
<text x="438.91" y="553" font-size="13.6" text-anchor="middle">100</text>
<text x="485.98" y="553" font-size="13.6" text-anchor="middle">150</text>
<text x="533.05" y="553" font-size="13.6" text-anchor="middle">200</text>
<text x="580.13" y="553" font-size="13.6" text-anchor="middle">250</text>
<text x="627.2" y="553" font-size="13.6" text-anchor="middle">300</text>
<text x="363.8" y="542.02" font-size="13.6" text-anchor="end">0.0</text>
<text x="363.8" y="518.82" font-size="13.6" text-anchor="end">0.5</text>
<text x="363.8" y="495.62" font-size="13.6" text-anchor="end">1.0</text>
<text x="363.8" y="472.42" font-size="13.6" text-anchor="end">1.5</text>
<text x="363.8" y="449.22" font-size="13.6" text-anchor="end">2.0</text>
<text x="363.8" y="426.02" font-size="13.6" text-anchor="end">2.5</text>
<text x="363.8" y="402.82" font-size="13.6" text-anchor="end">3.0</text>
<text x="363.8" y="379.62" font-size="13.6" text-anchor="end">3.5</text>
<text x="363.8" y="356.42" font-size="13.6" text-anchor="end">4.0</text>
<text x="363.8" y="333.22" font-size="13.6" text-anchor="end">4.5</text>
<text x="492.8" y="322.1" font-size="13.7" text-anchor="middle">365 nm illumination</text>
<text x="498.4" y="575.8" font-size="13.6" text-anchor="middle">Temperature(K)</text>
<text x="341" y="433.3" font-size="13.8" text-anchor="middle" transform="rotate(-90 341 433.3)">Current@10V(nA)</text>
<text x="319.7" y="333" font-size="24" text-anchor="start">d)</text>
<polyline points="67.98,744.77 79.85,740.9 91.73,737.56 103.61,734.3 115.49,731.58 127.36,728.79 139.24,726.07 151.12,723.28 163,718.86 174.87,715.94 186.75,713.76 198.63,712.81 210.5,711.32 222.38,710.23 234.26,708.46 246.14,706.22 258.01,700.64 269.89,697.31 281.77,693.98 293.65,689.56 305.52,686.63" fill="none" stroke="#000000" stroke-width="2.0" stroke-linejoin="round"/>
<rect x="65.38" y="742.17" width="5.2" height="5.2" fill="#000000"/>
<rect x="77.25" y="738.3" width="5.2" height="5.2" fill="#000000"/>
<rect x="89.13" y="734.96" width="5.2" height="5.2" fill="#000000"/>
<rect x="101.01" y="731.7" width="5.2" height="5.2" fill="#000000"/>
<rect x="112.89" y="728.98" width="5.2" height="5.2" fill="#000000"/>
<rect x="124.76" y="726.19" width="5.2" height="5.2" fill="#000000"/>
<rect x="136.64" y="723.47" width="5.2" height="5.2" fill="#000000"/>
<rect x="148.52" y="720.68" width="5.2" height="5.2" fill="#000000"/>
<rect x="160.4" y="716.26" width="5.2" height="5.2" fill="#000000"/>
<rect x="172.27" y="713.34" width="5.2" height="5.2" fill="#000000"/>
<rect x="184.15" y="711.16" width="5.2" height="5.2" fill="#000000"/>
<rect x="196.03" y="710.21" width="5.2" height="5.2" fill="#000000"/>
<rect x="207.9" y="708.72" width="5.2" height="5.2" fill="#000000"/>
<rect x="219.78" y="707.63" width="5.2" height="5.2" fill="#000000"/>
<rect x="231.66" y="705.86" width="5.2" height="5.2" fill="#000000"/>
<rect x="243.54" y="703.62" width="5.2" height="5.2" fill="#000000"/>
<rect x="255.41" y="698.04" width="5.2" height="5.2" fill="#000000"/>
<rect x="267.29" y="694.71" width="5.2" height="5.2" fill="#000000"/>
<rect x="279.17" y="691.38" width="5.2" height="5.2" fill="#000000"/>
<rect x="291.05" y="686.96" width="5.2" height="5.2" fill="#000000"/>
<rect x="302.92" y="684.03" width="5.2" height="5.2" fill="#000000"/>
<polyline points="67.98,777.62 79.85,770.14 91.73,762.45 103.61,754.7 115.49,747.02 127.36,739.26 139.24,732.06 151.12,724.78 163,719.48 174.87,715.94 186.75,713.76 198.63,711.72 210.5,709.55 222.38,707.37 234.26,705.13 246.14,696.36 258.01,690.44 269.89,683.78 281.77,676.5 293.65,668.82 305.52,661.06" fill="none" stroke="#ff0000" stroke-width="2.0" stroke-linejoin="round"/>
<circle cx="67.98" cy="777.62" r="2.9" fill="#ff0000"/>
<circle cx="79.85" cy="770.14" r="2.9" fill="#ff0000"/>
<circle cx="91.73" cy="762.45" r="2.9" fill="#ff0000"/>
<circle cx="103.61" cy="754.7" r="2.9" fill="#ff0000"/>
<circle cx="115.49" cy="747.02" r="2.9" fill="#ff0000"/>
<circle cx="127.36" cy="739.26" r="2.9" fill="#ff0000"/>
<circle cx="139.24" cy="732.06" r="2.9" fill="#ff0000"/>
<circle cx="151.12" cy="724.78" r="2.9" fill="#ff0000"/>
<circle cx="163" cy="719.48" r="2.9" fill="#ff0000"/>
<circle cx="174.87" cy="715.94" r="2.9" fill="#ff0000"/>
<circle cx="186.75" cy="713.76" r="2.9" fill="#ff0000"/>
<circle cx="198.63" cy="711.72" r="2.9" fill="#ff0000"/>
<circle cx="210.5" cy="709.55" r="2.9" fill="#ff0000"/>
<circle cx="222.38" cy="707.37" r="2.9" fill="#ff0000"/>
<circle cx="234.26" cy="705.13" r="2.9" fill="#ff0000"/>
<circle cx="246.14" cy="696.36" r="2.9" fill="#ff0000"/>
<circle cx="258.01" cy="690.44" r="2.9" fill="#ff0000"/>
<circle cx="269.89" cy="683.78" r="2.9" fill="#ff0000"/>
<circle cx="281.77" cy="676.5" r="2.9" fill="#ff0000"/>
<circle cx="293.65" cy="668.82" r="2.9" fill="#ff0000"/>
<circle cx="305.52" cy="661.06" r="2.9" fill="#ff0000"/>
<polyline points="67.98,799.58 79.85,789.92 91.73,780.47 103.61,770.14 115.49,759.12 127.36,747.49 139.24,734.3 151.12,725.46 163,719.48 174.87,715.94 186.75,713.76 198.63,707.37 210.5,705.81 222.38,704.04 234.26,700.71 246.14,694.11 258.01,686.43 269.89,676.5 281.77,664.87 293.65,651.27 305.52,638.42" fill="none" stroke="#0000ff" stroke-width="2.0" stroke-linejoin="round"/>
<polygon points="67.98,795.98 71.4,801.74 64.56,801.74" fill="#0000ff"/>
<polygon points="79.85,786.32 83.27,792.08 76.43,792.08" fill="#0000ff"/>
<polygon points="91.73,776.87 95.15,782.63 88.31,782.63" fill="#0000ff"/>
<polygon points="103.61,766.54 107.03,772.3 100.19,772.3" fill="#0000ff"/>
<polygon points="115.49,755.52 118.91,761.28 112.07,761.28" fill="#0000ff"/>
<polygon points="127.36,743.89 130.78,749.65 123.94,749.65" fill="#0000ff"/>
<polygon points="139.24,730.7 142.66,736.46 135.82,736.46" fill="#0000ff"/>
<polygon points="151.12,721.86 154.54,727.62 147.7,727.62" fill="#0000ff"/>
<polygon points="163,715.88 166.42,721.64 159.58,721.64" fill="#0000ff"/>
<polygon points="174.87,712.34 178.29,718.1 171.45,718.1" fill="#0000ff"/>
<polygon points="186.75,710.16 190.17,715.92 183.33,715.92" fill="#0000ff"/>
<polygon points="198.63,703.77 202.05,709.53 195.21,709.53" fill="#0000ff"/>
<polygon points="210.5,702.21 213.92,707.97 207.08,707.97" fill="#0000ff"/>
<polygon points="222.38,700.44 225.8,706.2 218.96,706.2" fill="#0000ff"/>
<polygon points="234.26,697.11 237.68,702.87 230.84,702.87" fill="#0000ff"/>
<polygon points="246.14,690.51 249.56,696.27 242.72,696.27" fill="#0000ff"/>
<polygon points="258.01,682.83 261.43,688.59 254.59,688.59" fill="#0000ff"/>
<polygon points="269.89,672.9 273.31,678.66 266.47,678.66" fill="#0000ff"/>
<polygon points="281.77,661.27 285.19,667.03 278.35,667.03" fill="#0000ff"/>
<polygon points="293.65,647.67 297.07,653.43 290.23,653.43" fill="#0000ff"/>
<polygon points="305.52,634.82 308.94,640.58 302.1,640.58" fill="#0000ff"/>
<polyline points="67.98,801.76 79.85,794.34 91.73,786.46 103.61,776.05 115.49,765.04 127.36,751.78 139.24,731.38 151.12,724.78 163,719.95 174.87,716.62 186.75,713.76 198.63,708.46 210.5,706.22 222.38,704.45 234.26,701.46 246.14,694.79 258.01,684.18 269.89,675.89 281.77,659.98 293.65,641.96 305.52,621.49" fill="none" stroke="#ff00ff" stroke-width="2.0" stroke-linejoin="round"/>
<polygon points="67.98,805.36 71.4,799.6 64.56,799.6" fill="#ff00ff"/>
<polygon points="79.85,797.94 83.27,792.18 76.43,792.18" fill="#ff00ff"/>
<polygon points="91.73,790.06 95.15,784.3 88.31,784.3" fill="#ff00ff"/>
<polygon points="103.61,779.65 107.03,773.89 100.19,773.89" fill="#ff00ff"/>
<polygon points="115.49,768.64 118.91,762.88 112.07,762.88" fill="#ff00ff"/>
<polygon points="127.36,755.38 130.78,749.62 123.94,749.62" fill="#ff00ff"/>
<polygon points="139.24,734.98 142.66,729.22 135.82,729.22" fill="#ff00ff"/>
<polygon points="151.12,728.38 154.54,722.62 147.7,722.62" fill="#ff00ff"/>
<polygon points="163,723.55 166.42,717.79 159.58,717.79" fill="#ff00ff"/>
<polygon points="174.87,720.22 178.29,714.46 171.45,714.46" fill="#ff00ff"/>
<polygon points="186.75,717.36 190.17,711.6 183.33,711.6" fill="#ff00ff"/>
<polygon points="198.63,712.06 202.05,706.3 195.21,706.3" fill="#ff00ff"/>
<polygon points="210.5,709.82 213.92,704.06 207.08,704.06" fill="#ff00ff"/>
<polygon points="222.38,708.05 225.8,702.29 218.96,702.29" fill="#ff00ff"/>
<polygon points="234.26,705.06 237.68,699.3 230.84,699.3" fill="#ff00ff"/>
<polygon points="246.14,698.39 249.56,692.63 242.72,692.63" fill="#ff00ff"/>
<polygon points="258.01,687.78 261.43,682.02 254.59,682.02" fill="#ff00ff"/>
<polygon points="269.89,679.49 273.31,673.73 266.47,673.73" fill="#ff00ff"/>
<polygon points="281.77,663.58 285.19,657.82 278.35,657.82" fill="#ff00ff"/>
<polygon points="293.65,645.56 297.07,639.8 290.23,639.8" fill="#ff00ff"/>
<polygon points="305.52,625.09 308.94,619.33 302.1,619.33" fill="#ff00ff"/>
<polyline points="67.98,748.99 79.85,749.74 91.73,746.4 103.61,737.56 115.49,729.88 127.36,726.55 139.24,722.13 151.12,718.86 163,715.94 174.87,714.65 186.75,713.36 198.63,712.54 210.5,711.18 222.38,709.82 234.26,706.42 246.14,703.02 258.01,695.2 269.89,686.02 281.77,679.9 293.65,675 305.52,656.1" fill="none" stroke="#008000" stroke-width="2.0" stroke-linejoin="round"/>
<polygon points="67.98,745.59 71.38,748.99 67.98,752.39 64.58,748.99" fill="#008000"/>
<polygon points="79.85,746.34 83.25,749.74 79.85,753.14 76.45,749.74" fill="#008000"/>
<polygon points="91.73,743 95.13,746.4 91.73,749.8 88.33,746.4" fill="#008000"/>
<polygon points="103.61,734.16 107.01,737.56 103.61,740.96 100.21,737.56" fill="#008000"/>
<polygon points="115.49,726.48 118.89,729.88 115.49,733.28 112.09,729.88" fill="#008000"/>
<polygon points="127.36,723.15 130.76,726.55 127.36,729.95 123.96,726.55" fill="#008000"/>
<polygon points="139.24,718.73 142.64,722.13 139.24,725.53 135.84,722.13" fill="#008000"/>
<polygon points="151.12,715.46 154.52,718.86 151.12,722.26 147.72,718.86" fill="#008000"/>
<polygon points="163,712.54 166.4,715.94 163,719.34 159.6,715.94" fill="#008000"/>
<polygon points="174.87,711.25 178.27,714.65 174.87,718.05 171.47,714.65" fill="#008000"/>
<polygon points="186.75,709.96 190.15,713.36 186.75,716.76 183.35,713.36" fill="#008000"/>
<polygon points="198.63,709.14 202.03,712.54 198.63,715.94 195.23,712.54" fill="#008000"/>
<polygon points="210.5,707.78 213.9,711.18 210.5,714.58 207.1,711.18" fill="#008000"/>
<polygon points="222.38,706.42 225.78,709.82 222.38,713.22 218.98,709.82" fill="#008000"/>
<polygon points="234.26,703.02 237.66,706.42 234.26,709.82 230.86,706.42" fill="#008000"/>
<polygon points="246.14,699.62 249.54,703.02 246.14,706.42 242.74,703.02" fill="#008000"/>
<polygon points="258.01,691.8 261.41,695.2 258.01,698.6 254.61,695.2" fill="#008000"/>
<polygon points="269.89,682.62 273.29,686.02 269.89,689.42 266.49,686.02" fill="#008000"/>
<polygon points="281.77,676.5 285.17,679.9 281.77,683.3 278.37,679.9" fill="#008000"/>
<polygon points="293.65,671.6 297.05,675 293.65,678.4 290.25,675" fill="#008000"/>
<polygon points="305.52,652.7 308.92,656.1 305.52,659.5 302.12,656.1" fill="#008000"/>
<polyline points="67.98,725.46 79.85,725.46 91.73,724.78 103.61,722.74 115.49,721.45 127.36,719.48 139.24,717.23 151.12,716.62 163,715.94 174.87,715.06 186.75,713.76 198.63,712.34 210.5,711.32 222.38,710.23 234.26,710.23 246.14,709.55 258.01,707.37 269.89,705.13 281.77,700.64 293.65,694.66 305.52,688.06" fill="none" stroke="#000080" stroke-width="2.0" stroke-linejoin="round"/>
<polygon points="64.38,725.46 70.14,722.04 70.14,728.88" fill="#000080"/>
<polygon points="76.25,725.46 82.01,722.04 82.01,728.88" fill="#000080"/>
<polygon points="88.13,724.78 93.89,721.36 93.89,728.2" fill="#000080"/>
<polygon points="100.01,722.74 105.77,719.32 105.77,726.16" fill="#000080"/>
<polygon points="111.89,721.45 117.65,718.03 117.65,724.87" fill="#000080"/>
<polygon points="123.76,719.48 129.52,716.06 129.52,722.9" fill="#000080"/>
<polygon points="135.64,717.23 141.4,713.81 141.4,720.65" fill="#000080"/>
<polygon points="147.52,716.62 153.28,713.2 153.28,720.04" fill="#000080"/>
<polygon points="159.4,715.94 165.16,712.52 165.16,719.36" fill="#000080"/>
<polygon points="171.27,715.06 177.03,711.64 177.03,718.48" fill="#000080"/>
<polygon points="183.15,713.76 188.91,710.34 188.91,717.18" fill="#000080"/>
<polygon points="195.03,712.34 200.79,708.92 200.79,715.76" fill="#000080"/>
<polygon points="206.9,711.32 212.66,707.9 212.66,714.74" fill="#000080"/>
<polygon points="218.78,710.23 224.54,706.81 224.54,713.65" fill="#000080"/>
<polygon points="230.66,710.23 236.42,706.81 236.42,713.65" fill="#000080"/>
<polygon points="242.54,709.55 248.3,706.13 248.3,712.97" fill="#000080"/>
<polygon points="254.41,707.37 260.17,703.95 260.17,710.79" fill="#000080"/>
<polygon points="266.29,705.13 272.05,701.71 272.05,708.55" fill="#000080"/>
<polygon points="278.17,700.64 283.93,697.22 283.93,704.06" fill="#000080"/>
<polygon points="290.05,694.66 295.81,691.24 295.81,698.08" fill="#000080"/>
<polygon points="301.92,688.06 307.68,684.64 307.68,691.48" fill="#000080"/>
<path d="M61.7 618.7H86" stroke="#000000" stroke-width="2"/>
<rect x="71.46" y="616.36" width="4.68" height="4.68" fill="#000000"/>
<text x="88.8" y="622.26" font-size="10.8" text-anchor="start">40K</text>
<path d="M61.7 632.1H86" stroke="#ff0000" stroke-width="2"/>
<circle cx="73.8" cy="632.1" r="2.61" fill="#ff0000"/>
<text x="88.8" y="635.66" font-size="10.8" text-anchor="start">100K</text>
<path d="M61.7 645.4H86" stroke="#0000ff" stroke-width="2"/>
<polygon points="73.8,642.16 76.88,647.34 70.72,647.34" fill="#0000ff"/>
<text x="88.8" y="648.96" font-size="10.8" text-anchor="start">160K</text>
<path d="M61.7 658.9H86" stroke="#ff00ff" stroke-width="2"/>
<polygon points="73.8,662.14 76.88,656.96 70.72,656.96" fill="#ff00ff"/>
<text x="88.8" y="662.46" font-size="10.8" text-anchor="start">220K</text>
<path d="M61.7 672.7H86" stroke="#008000" stroke-width="2"/>
<polygon points="73.8,669.64 76.86,672.7 73.8,675.76 70.74,672.7" fill="#008000"/>
<text x="88.8" y="676.26" font-size="10.8" text-anchor="start">280K</text>
<path d="M61.7 686.1H86" stroke="#000080" stroke-width="2"/>
<polygon points="70.56,686.1 75.74,683.02 75.74,689.18" fill="#000080"/>
<text x="88.8" y="689.66" font-size="10.8" text-anchor="start">300K</text>
<path d="M67.98 815.9V811.5M67.98 605.1V609.5M127.36 815.9V811.5M127.36 605.1V609.5M186.75 815.9V811.5M186.75 605.1V609.5M246.14 815.9V811.5M246.14 605.1V609.5M305.52 815.9V811.5M305.52 605.1V609.5M56.1 815.9V813.7M56.1 605.1V607.3M79.85 815.9V813.7M79.85 605.1V607.3M91.73 815.9V813.7M91.73 605.1V607.3M103.61 815.9V813.7M103.61 605.1V607.3M115.49 815.9V813.7M115.49 605.1V607.3M139.24 815.9V813.7M139.24 605.1V607.3M151.12 815.9V813.7M151.12 605.1V607.3M163 815.9V813.7M163 605.1V607.3M174.87 815.9V813.7M174.87 605.1V607.3M198.63 815.9V813.7M198.63 605.1V607.3M210.5 815.9V813.7M210.5 605.1V607.3M222.38 815.9V813.7M222.38 605.1V607.3M234.26 815.9V813.7M234.26 605.1V607.3M258.01 815.9V813.7M258.01 605.1V607.3M269.89 815.9V813.7M269.89 605.1V607.3M281.77 815.9V813.7M281.77 605.1V607.3M293.65 815.9V813.7M293.65 605.1V607.3M317.4 815.9V813.7M317.4 605.1V607.3M56.1 815.9H60.5M317.4 815.9H313M56.1 781.9H60.5M317.4 781.9H313M56.1 747.9H60.5M317.4 747.9H313M56.1 713.9H60.5M317.4 713.9H313M56.1 679.9H60.5M317.4 679.9H313M56.1 645.9H60.5M317.4 645.9H313M56.1 611.9H60.5M317.4 611.9H313M56.1 809.1H58.3M317.4 809.1H315.2M56.1 802.3H58.3M317.4 802.3H315.2M56.1 795.5H58.3M317.4 795.5H315.2M56.1 788.7H58.3M317.4 788.7H315.2M56.1 775.1H58.3M317.4 775.1H315.2M56.1 768.3H58.3M317.4 768.3H315.2M56.1 761.5H58.3M317.4 761.5H315.2M56.1 754.7H58.3M317.4 754.7H315.2M56.1 741.1H58.3M317.4 741.1H315.2M56.1 734.3H58.3M317.4 734.3H315.2M56.1 727.5H58.3M317.4 727.5H315.2M56.1 720.7H58.3M317.4 720.7H315.2M56.1 707.1H58.3M317.4 707.1H315.2M56.1 700.3H58.3M317.4 700.3H315.2M56.1 693.5H58.3M317.4 693.5H315.2M56.1 686.7H58.3M317.4 686.7H315.2M56.1 673.1H58.3M317.4 673.1H315.2M56.1 666.3H58.3M317.4 666.3H315.2M56.1 659.5H58.3M317.4 659.5H315.2M56.1 652.7H58.3M317.4 652.7H315.2M56.1 639.1H58.3M317.4 639.1H315.2M56.1 632.3H58.3M317.4 632.3H315.2M56.1 625.5H58.3M317.4 625.5H315.2M56.1 618.7H58.3M317.4 618.7H315.2M56.1 605.1H58.3M317.4 605.1H315.2" stroke="#000" stroke-width="2.0" fill="none"/>
<rect x="56.1" y="605.1" width="261.3" height="210.8" stroke="#000" stroke-width="2.0" fill="none"/>
<text x="67.98" y="831.6" font-size="14" text-anchor="middle">-10</text>
<text x="127.36" y="831.6" font-size="14" text-anchor="middle">-5</text>
<text x="186.75" y="831.6" font-size="14" text-anchor="middle">0</text>
<text x="246.14" y="831.6" font-size="14" text-anchor="middle">5</text>
<text x="305.52" y="831.6" font-size="14" text-anchor="middle">10</text>
<text x="51.8" y="820.32" font-size="14" text-anchor="end">-1500</text>
<text x="51.8" y="786.32" font-size="14" text-anchor="end">-1000</text>
<text x="51.8" y="752.32" font-size="14" text-anchor="end">-500</text>
<text x="51.8" y="718.32" font-size="14" text-anchor="end">0</text>
<text x="51.8" y="684.32" font-size="14" text-anchor="end">500</text>
<text x="51.8" y="650.32" font-size="14" text-anchor="end">1000</text>
<text x="51.8" y="616.32" font-size="14" text-anchor="end">1500</text>
<text x="180.6" y="600.1" font-size="13.8" text-anchor="middle">254 nm illumination</text>
<text x="187.1" y="857.5" font-size="18" text-anchor="middle">Voltage(V)</text>
<text x="16.6" y="719.5" font-size="18.3" text-anchor="middle" transform="rotate(-90 16.6 719.5)">Current(nA)</text>
<text x="0.6" y="619.8" font-size="23.7" text-anchor="start">e)</text>
<polyline points="383.56,716.1 402.3,699.61 421.04,672.5 439.78,656.02 458.52,643.17 477.27,634.45 496.01,630.17 514.75,631.76 533.49,643.65 552.23,656.02 570.97,691.69 589.72,723.87 608.46,795.21" fill="none" stroke="#000" stroke-width="2.0" stroke-linejoin="round"/>
<rect x="381.09" y="713.63" width="4.94" height="4.94" fill="#000"/>
<rect x="399.83" y="697.14" width="4.94" height="4.94" fill="#000"/>
<rect x="418.57" y="670.03" width="4.94" height="4.94" fill="#000"/>
<rect x="437.31" y="653.55" width="4.94" height="4.94" fill="#000"/>
<rect x="456.05" y="640.7" width="4.94" height="4.94" fill="#000"/>
<rect x="474.8" y="631.98" width="4.94" height="4.94" fill="#000"/>
<rect x="493.54" y="627.7" width="4.94" height="4.94" fill="#000"/>
<rect x="512.28" y="629.29" width="4.94" height="4.94" fill="#000"/>
<rect x="531.02" y="641.18" width="4.94" height="4.94" fill="#000"/>
<rect x="549.76" y="653.55" width="4.94" height="4.94" fill="#000"/>
<rect x="568.5" y="689.22" width="4.94" height="4.94" fill="#000"/>
<rect x="587.25" y="721.4" width="4.94" height="4.94" fill="#000"/>
<rect x="605.99" y="792.74" width="4.94" height="4.94" fill="#000"/>
<path d="M392.93 818.2V813.8M392.93 612.1V616.5M439.78 818.2V813.8M439.78 612.1V616.5M486.64 818.2V813.8M486.64 612.1V616.5M533.49 818.2V813.8M533.49 612.1V616.5M580.35 818.2V813.8M580.35 612.1V616.5M627.2 818.2V813.8M627.2 612.1V616.5M374.19 818.2V816M374.19 612.1V614.3M383.56 818.2V816M383.56 612.1V614.3M402.3 818.2V816M402.3 612.1V614.3M411.67 818.2V816M411.67 612.1V614.3M421.04 818.2V816M421.04 612.1V614.3M430.41 818.2V816M430.41 612.1V614.3M449.15 818.2V816M449.15 612.1V614.3M458.52 818.2V816M458.52 612.1V614.3M467.89 818.2V816M467.89 612.1V614.3M477.27 818.2V816M477.27 612.1V614.3M496.01 818.2V816M496.01 612.1V614.3M505.38 818.2V816M505.38 612.1V614.3M514.75 818.2V816M514.75 612.1V614.3M524.12 818.2V816M524.12 612.1V614.3M542.86 818.2V816M542.86 612.1V614.3M552.23 818.2V816M552.23 612.1V614.3M561.6 818.2V816M561.6 612.1V614.3M570.97 818.2V816M570.97 612.1V614.3M589.72 818.2V816M589.72 612.1V614.3M599.09 818.2V816M599.09 612.1V614.3M608.46 818.2V816M608.46 612.1V614.3M617.83 818.2V816M617.83 612.1V614.3M369.5 818.2H373.9M627.2 818.2H622.8M369.5 786.49H373.9M627.2 786.49H622.8M369.5 754.78H373.9M627.2 754.78H622.8M369.5 723.08H373.9M627.2 723.08H622.8M369.5 691.37H373.9M627.2 691.37H622.8M369.5 659.66H373.9M627.2 659.66H622.8M369.5 627.95H373.9M627.2 627.95H622.8M369.5 802.35H371.7M627.2 802.35H625M369.5 770.64H371.7M627.2 770.64H625M369.5 738.93H371.7M627.2 738.93H625M369.5 707.22H371.7M627.2 707.22H625M369.5 675.52H371.7M627.2 675.52H625M369.5 643.81H371.7M627.2 643.81H625M369.5 612.1H371.7M627.2 612.1H625" stroke="#000" stroke-width="2.0" fill="none"/>
<rect x="369.5" y="612.1" width="257.7" height="206.1" stroke="#000" stroke-width="2.0" fill="none"/>
<text x="392.93" y="833.8" font-size="13.3" text-anchor="middle">50</text>
<text x="439.78" y="833.8" font-size="13.3" text-anchor="middle">100</text>
<text x="486.64" y="833.8" font-size="13.3" text-anchor="middle">150</text>
<text x="533.49" y="833.8" font-size="13.3" text-anchor="middle">200</text>
<text x="580.35" y="833.8" font-size="13.3" text-anchor="middle">250</text>
<text x="627.2" y="833.8" font-size="13.3" text-anchor="middle">300</text>
<text x="364.6" y="822.62" font-size="13.3" text-anchor="end">1400</text>
<text x="364.6" y="790.91" font-size="13.3" text-anchor="end">1600</text>
<text x="364.6" y="759.2" font-size="13.3" text-anchor="end">1800</text>
<text x="364.6" y="727.5" font-size="13.3" text-anchor="end">2000</text>
<text x="364.6" y="695.79" font-size="13.3" text-anchor="end">2200</text>
<text x="364.6" y="664.08" font-size="13.3" text-anchor="end">2400</text>
<text x="364.6" y="632.37" font-size="13.3" text-anchor="end">2600</text>
<text x="497.7" y="603.7" font-size="13.7" text-anchor="middle">254 nm illumination</text>
<text x="498.4" y="856.3" font-size="13.6" text-anchor="middle">Temperature(K)</text>
<text x="332" y="714.7" font-size="13.8" text-anchor="middle" transform="rotate(-90 332 714.7)">Current@10V(nA)</text>
<text x="323.5" y="620" font-size="23" text-anchor="start">f)</text>
</svg>
</body></html>
